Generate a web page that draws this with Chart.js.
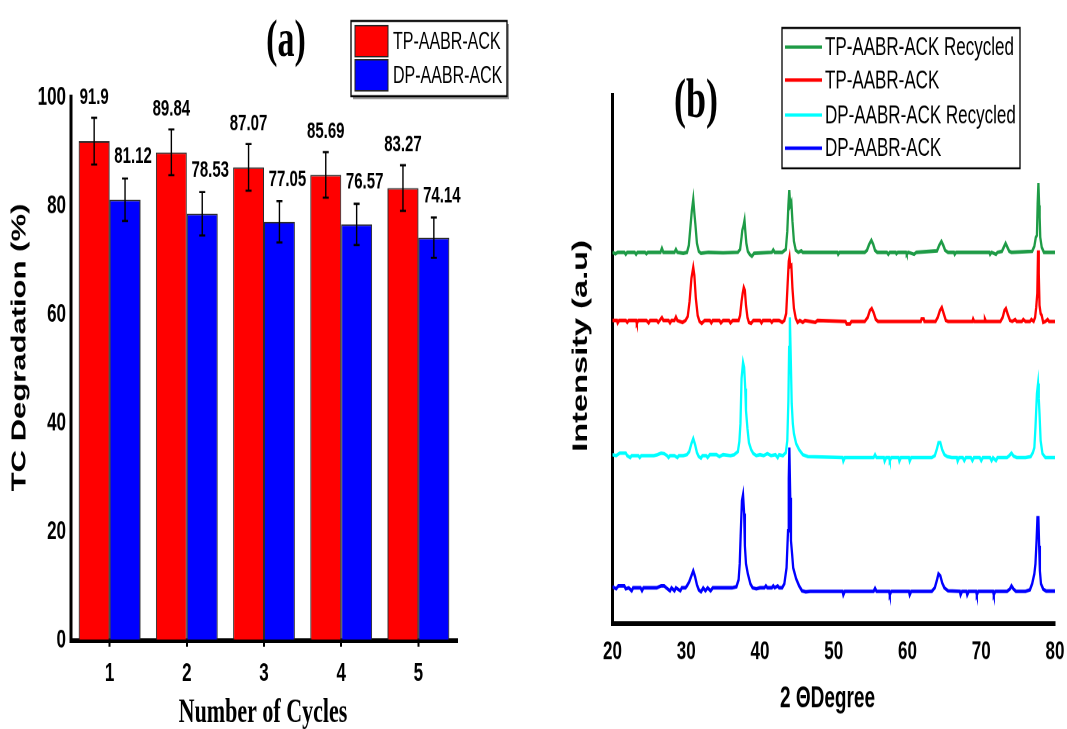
<!DOCTYPE html>
<html>
<head>
<meta charset="utf-8">
<script src="https://cdn.jsdelivr.net/npm/chart.js@4.4.0/dist/chart.umd.min.js"></script>
<style>
  html, body { margin: 0; padding: 0; background: #fff; overflow: hidden; }
  #wrap { position: relative; width: 1067px; height: 729px; }
  /* the source figure is stretched vertically, so each panel is drawn at 470px and scaled to 729px */
  .panel { position: absolute; top: 0; transform-origin: 0 0; transform: scaleY(1.5511); }
  #panelA { left: 0; }
  #panelB { left: 560px; }
</style>
</head>
<body>
<div id="wrap">
  <canvas id="panelA" class="panel" width="560" height="470"></canvas>
  <canvas id="panelB" class="panel" width="507" height="470"></canvas>
</div>
<script>
// ---- data, panel (a) ----
var cycles = ['1', '2', '3', '4', '5'];
var tpDegradation = [91.9, 89.84, 87.07, 85.69, 83.27];
var dpDegradation = [81.12, 78.53, 77.05, 76.57, 74.14];
var tpError = [4.3, 4.2, 4.3, 4.2, 4.2];
var dpError = [3.9, 4.0, 3.8, 3.8, 3.7];

// ---- data, panel (b): [2theta, intensity a.u.] ----
var tpRecycled = [
  [20.0,371],[20.4,369.5],[20.7,371],[21.6,371],[21.8,369],[22.0,371],[23.0,371],[23.2,369],[23.4,371],
  [24.4,371],[24.6,369.5],[24.8,371],[26.5,371],[26.7,375],[26.9,371],[28.4,371],[28.6,374],[28.8,371],
  [29.6,370],[30.1,371],[30.35,378],[30.55,395],[30.75,412],[30.95,424],[31.1,410],[31.25,398],[31.45,380],
  [31.7,372],[32.0,370],[33.0,371],[35.0,370.5],[37.0,371],[37.3,374],[37.5,386],[37.6,393],[37.75,397],
  [37.9,403],[38.0,393],[38.15,380],[38.35,372],[38.6,369],[38.9,367],[39.2,370],[41.6,371],[41.8,373.5],
  [42.0,371],[43.0,371],[43.5,374],[43.7,392],[43.85,418],[43.97,433],[44.1,418],[44.25,421],[44.4,402],
  [44.6,382],[44.85,373],[45.2,371],[45.6,372.5],[45.8,371],[50.5,371],[50.6,369],[50.8,371],[54.2,371],
  [54.5,373],[54.8,379],[55.1,383],[55.35,379],[55.6,373],[55.9,371],[57.2,371],[57.4,369],[57.6,371],
  [58.4,371],[58.5,369.5],[58.7,371],[59.8,371],[59.9,369],[60.1,371],[60.9,369],[61.2,371],[64.0,372.5],
  [64.3,378],[64.6,382],[64.85,378],[65.1,373],[65.5,371],[66.3,371],[66.4,369],[66.6,371],[71.1,371],
  [71.2,369],[71.4,371],[72.0,369],[72.2,371],[72.8,372],[73.05,376],[73.3,380],[73.55,376],[73.8,372],
  [74.1,371],[76.9,372],[77.2,377],[77.4,386],[77.55,388],[77.65,420],[77.75,440],[77.85,418],[77.92,406],
  [78.0,386],[78.2,376],[78.5,371],[80.0,371]
];
var tpFresh = [
  [20.0,303],[20.6,303],[20.7,300.5],[20.9,303],[21.8,303],[22.0,301],[22.2,303],[23.2,303],[23.3,300],
  [23.5,303],[24.6,303],[24.9,300.5],[25.1,303],[26.0,303],[26.2,301],[26.4,303],[26.7,306],[26.9,303],
  [27.6,303],[27.8,300.5],[28.0,303],[28.4,303],[28.6,306.5],[28.8,303],[29.5,301],[29.9,303],[30.2,307],
  [30.45,322],[30.7,345],[30.95,356],[31.1,348],[31.3,325],[31.55,308],[31.8,302],[32.1,300],[32.5,303],
  [33.2,303],[33.4,300.5],[33.6,303],[34.5,303],[34.7,300.5],[35.0,303],[35.8,303],[36.0,300.5],[36.3,303],
  [37.1,303],[37.3,308],[37.5,322],[37.65,330],[37.8,336],[37.95,333],[38.1,318],[38.3,306],[38.5,301],
  [38.8,300],[39.1,303],[40.0,303],[40.2,300.5],[40.4,303],[41.4,303],[41.6,301],[41.8,303],[42.6,303],
  [43.0,301],[43.3,303],[43.55,310],[43.75,340],[43.9,362],[44.0,366],[44.1,357],[44.25,358],[44.4,335],
  [44.6,315],[44.85,305],[45.1,301],[45.4,303],[45.8,301],[46.1,303],[47.5,301],[47.8,303],[51.6,302],
  [51.75,299.5],[52.2,299.5],[52.4,302],[54.2,302],[54.6,306],[54.9,313],[55.15,315],[55.4,311],[55.7,304],
  [56.0,302],[61.8,302],[61.9,304.5],[62.2,304.5],[62.3,302],[63.8,302],[64.1,306],[64.4,313],[64.65,316],
  [64.9,310],[65.2,303],[65.5,302],[68.8,302],[68.9,304.5],[69.05,302],[70.4,302],[70.5,304.5],[70.65,302],
  [72.6,302],[72.9,306],[73.15,313],[73.35,315],[73.6,309],[73.9,303],[74.2,302],[74.6,304],[74.8,302],
  [75.5,302],[75.7,304],[76.0,302],[76.6,302],[76.8,304],[77.1,302],[77.3,306],[77.45,316],[77.6,330],
  [77.7,373],[77.8,350],[77.9,318],[78.05,310],[78.2,308],[78.4,301],[78.7,302],[79.0,304],[79.2,302],[80.0,302]
];
var dpRecycled = [
  [20.0,169],[20.5,168],[21.0,170.5],[21.8,170.5],[22.0,168],[22.4,166],[22.6,168],[23.5,168],[23.7,166],
  [23.9,168],[25.6,168],[26.1,169],[26.6,170.5],[27.0,170],[27.4,168],[27.6,166],[27.8,168],[28.4,168],
  [28.8,166],[29.0,168],[29.6,168],[30.1,169],[30.4,172],[30.7,180],[30.95,185],[31.2,179],[31.45,171],
  [31.7,167],[32.0,165.5],[32.2,168],[32.7,168],[32.9,166],[33.2,169],[34.1,169],[34.5,167],[35.0,169],
  [36.0,168],[36.5,169],[37.0,172],[37.2,182],[37.35,200],[37.5,245],[37.7,261],[37.85,256],[38.0,235],
  [38.1,213],[38.3,195],[38.5,181],[38.8,174],[39.1,170],[39.5,168],[40.0,169],[40.5,168],[41.0,170],
  [41.5,168],[42.1,169],[42.4,166],[42.6,169],[43.1,168],[43.5,171],[43.7,183],[43.85,223],[43.95,276],
  [44.05,306],[44.15,273],[44.3,220],[44.45,200],[44.6,190],[44.9,180],[45.3,174],[45.8,169],[46.5,167],
  [51.2,166],[51.3,162.5],[51.5,166],[55.4,166],[55.6,169],[55.8,166],[56.8,166],[56.9,162.5],[57.1,166],
  [57.5,166],[57.6,163],[57.8,166],[58.8,166],[58.9,162.5],[59.1,166],[60.2,166],[60.3,162.5],[60.5,166],
  [63.3,166],[63.7,168],[64.0,175],[64.2,181],[64.45,181],[64.7,174],[65.0,169],[65.4,167],[66.0,166],
  [66.7,166],[66.8,162.5],[67.0,166],[67.5,166],[67.7,163],[67.9,166],[68.6,166],[68.8,163],[69.0,166],
  [69.8,166],[70.0,163],[70.2,166],[71.2,166],[71.4,163],[71.6,166],[72.0,163],[72.2,166],[73.5,166],
  [73.8,168],[74.1,170.5],[74.4,167.5],[74.8,166],[76.0,166],[76.7,167],[77.0,171],[77.2,176],[77.35,196],
  [77.55,230],[77.7,240],[77.8,225],[77.9,210],[78.05,183],[78.3,170],[78.7,166],[80.0,166]
];
var dpFresh = [
  [20.0,37],[20.5,35],[20.8,38],[21.6,38],[21.8,35],[22.2,36],[22.6,33],[22.8,36],[23.8,36],[24.0,33],
  [24.2,36],[26.0,36],[26.6,38],[27.0,38],[27.3,36],[27.8,33],[28.0,36],[28.4,33],[28.6,36],[29.2,33],
  [29.4,36],[29.9,36],[30.1,38],[30.4,42],[30.7,48],[30.95,53],[31.2,47],[31.45,39],[31.7,34],[32.0,32],
  [32.3,36],[32.6,33],[32.9,36],[33.3,33],[33.6,36],[36.2,36],[36.8,37],[37.1,44],[37.25,60],[37.4,93],
  [37.55,123],[37.7,129],[37.85,110],[37.95,78],[38.1,60],[38.35,50],[38.7,40],[39.0,36],[39.5,35],
  [40.0,36],[40.6,36],[40.8,38],[41.0,36],[41.6,36],[41.8,38],[42.0,36],[42.4,38],[42.6,36],[43.0,36],
  [43.3,40],[43.6,56],[43.8,93],[43.9,145],[43.98,176],[44.1,126],[44.2,83],[44.35,70],[44.5,56],
  [44.9,45],[45.3,38],[45.7,33],[46.2,32],[46.8,32.5],[51.2,32.5],[51.3,29],[51.5,32.5],[55.4,32.5],
  [55.6,35.5],[55.8,32.5],[57.5,32.5],[57.6,29],[57.8,32.5],[60.2,32.5],[60.3,29],[60.5,32.5],[63.3,32.5],
  [63.7,36],[64.0,44],[64.2,50],[64.45,48],[64.7,41],[65.0,36],[65.5,33],[67.1,32.5],[67.2,29],[67.4,32.5],
  [68.0,32.5],[68.1,29],[68.3,32.5],[69.3,32.5],[69.4,29],[69.6,32.5],[71.6,32.5],[71.7,29],[71.9,32.5],
  [73.5,32.5],[73.9,35],[74.1,38],[74.35,35],[74.7,32.5],[76.0,32.5],[76.6,34],[76.9,40],[77.2,50],
  [77.35,60],[77.5,83],[77.62,106],[77.75,106],[77.85,78],[77.95,53],[78.1,40],[78.4,34.7],[78.8,32.7],[80.0,32.7]
];
var thetaTicks = [20, 30, 40, 50, 60, 70, 80];

var SANS = "'Liberation Sans', Arial, sans-serif";
var SERIF = "'Liberation Serif', 'Times New Roman', serif";
Chart.defaults.font.family = SANS;
Chart.defaults.color = '#000';

function drawText(ctx, text, x, y, font, rot, align, base) {
  ctx.save();
  ctx.translate(x, y);
  if (rot) ctx.rotate(rot);
  ctx.font = font;
  ctx.fillStyle = '#000';
  ctx.textAlign = align || 'center';
  ctx.textBaseline = base || 'middle';
  ctx.fillText(text, 0, 0);
  ctx.restore();
}

// error bars + value labels on top of the bars
var barExtras = {
  id: 'barExtras',
  afterDatasetsDraw: function(chart) {
    var ctx = chart.ctx, y = chart.scales.y;
    var errs = [tpError, dpError];
    var shift = [{dx: 0, dy: 13}, {dx: 8, dy: 14}];
    chart.data.datasets.forEach(function(ds, i) {
      var meta = chart.getDatasetMeta(i);
      meta.data.forEach(function(bar, j) {
        var v = ds.data[j], e = errs[i][j];
        var top = y.getPixelForValue(v + e), bot = y.getPixelForValue(v - e);
        ctx.save();
        ctx.strokeStyle = '#000';
        ctx.lineWidth = 1.4;
        ctx.beginPath();
        ctx.moveTo(bar.x, top); ctx.lineTo(bar.x, bot);
        ctx.moveTo(bar.x - 3, top); ctx.lineTo(bar.x + 3, top);
        ctx.moveTo(bar.x - 3, bot); ctx.lineTo(bar.x + 3, bot);
        ctx.stroke();
        ctx.restore();
        drawText(ctx, String(v), bar.x + shift[i].dx, top - shift[i].dy, 'bold 15px ' + SANS);
      });
    });
  }
};

var frameA = {
  id: 'frameA',
  afterDraw: function(chart) {
    var ctx = chart.ctx;
    drawText(ctx, '(a)', 286, 27, 'bold 34px ' + SERIF);
    drawText(ctx, 'TC Degradation (%)', 20, 224, 'bold 20px ' + SANS, -Math.PI / 2);
    drawText(ctx, 'Number of Cycles', 263, 465.5, 'bold 22px ' + SERIF, 0, 'center', 'alphabetic');
    // legend box
    ctx.save();
    ctx.fillStyle = '#9a9a9a';
    ctx.fillRect(353, 15.5, 156, 48.5);
    ctx.fillStyle = '#fff';
    ctx.fillRect(351, 13.5, 156, 48.5);
    ctx.strokeStyle = '#000';
    ctx.lineWidth = 1.3;
    ctx.strokeRect(351, 13.5, 156, 48.5);
    chart.data.datasets.forEach(function(ds, i) {
      var top = 16.5 + i * 22;
      ctx.fillStyle = ds.backgroundColor;
      ctx.fillRect(355, top, 33, 20);
      ctx.strokeStyle = '#222';
      ctx.lineWidth = 1;
      ctx.strokeRect(355, top, 33, 20);
      drawText(ctx, ds.label, 393, top + 10.5, '16px ' + SANS, 0, 'left');
    });
    ctx.restore();
  }
};

var frameB = {
  id: 'frameB',
  afterDraw: function(chart) {
    var ctx = chart.ctx;
    drawText(ctx, '(b)', 136, 66, 'bold 36px ' + SERIF);
    drawText(ctx, 'Intensity (a.u)', 21, 223, 'bold 21px ' + SANS, -Math.PI / 2);
    drawText(ctx, '2 \u0398Degree', 267.5, 451, 'bold 19px ' + SANS);
    ctx.save();
    ctx.fillStyle = '#fff';
    ctx.fillRect(222, 18, 238, 90.5);
    ctx.strokeStyle = '#000';
    ctx.lineWidth = 1.3;
    ctx.strokeRect(222, 18, 238, 90.5);
    var rows = [30.3, 51.6, 74.2, 95.5];
    chart.data.datasets.forEach(function(ds, i) {
      ctx.strokeStyle = ds.borderColor;
      ctx.lineWidth = 2.2;
      ctx.beginPath();
      ctx.moveTo(225, rows[i]); ctx.lineTo(262, rows[i]);
      ctx.stroke();
      drawText(ctx, ds.label, 265, rows[i] + 0.5, '17px ' + SANS, 0, 'left');
    });
    ctx.restore();
  }
};

new Chart(document.getElementById('panelA'), {
  type: 'bar',
  data: {
    labels: cycles,
    datasets: [{
      label: 'TP-AABR-ACK',
      data: tpDegradation,
      backgroundColor: '#ff0000',
      borderColor: '#2a2a2a',
      borderWidth: 1
    }, {
      label: 'DP-AABR-ACK',
      data: dpDegradation,
      backgroundColor: '#0000ff',
      borderColor: '#2a2a2a',
      borderWidth: 1
    }]
  },
  options: {
    responsive: false,
    animation: false,
    devicePixelRatio: 2,
    barPercentage: 1.0,
    categoryPercentage: 0.8,
    layout: { padding: { left: 0, right: 103, top: 62.6, bottom: 0 } },
    plugins: { legend: { display: false }, tooltip: { enabled: false } },
    scales: {
      x: {
        grid: { drawOnChartArea: false, drawTicks: true, tickLength: 4, offset: false, color: '#000', lineWidth: 2 },
        border: { display: true, color: '#000', width: 3 },
        ticks: { font: { size: 17, weight: 'bold' }, padding: 7, color: '#000' },
        afterFit: function(s) { s.height = 57.1; }
      },
      y: {
        min: 0, max: 100,
        grid: { drawOnChartArea: false, drawTicks: false },
        border: { display: true, color: '#000', width: 3 },
        ticks: { stepSize: 20, font: { size: 17, weight: 'bold' }, padding: 5, color: '#000' },
        afterFit: function(s) { s.width = 71; }
      }
    }
  },
  plugins: [barExtras, frameA]
});

function trace(label, color, pts) {
  return {
    label: label,
    data: pts,
    borderColor: color,
    backgroundColor: color,
    borderWidth: 2.3,
    pointRadius: 0,
    tension: 0,
    fill: false
  };
}

new Chart(document.getElementById('panelB'), {
  type: 'line',
  data: {
    datasets: [
      trace('TP-AABR-ACK Recycled', '#1e9b46', tpRecycled),
      trace('TP-AABR-ACK', '#ff0000', tpFresh),
      trace('DP-AABR-ACK Recycled', '#00ffff', dpRecycled),
      trace('DP-AABR-ACK', '#0000ff', dpFresh)
    ]
  },
  options: {
    responsive: false,
    animation: false,
    devicePixelRatio: 2,
    parsing: { xAxisKey: 0, yAxisKey: 1 },
    layout: { padding: { left: 0, right: 12, top: 61.3, bottom: 0 } },
    plugins: { legend: { display: false }, tooltip: { enabled: false } },
    scales: {
      x: {
        type: 'linear',
        min: 20, max: 80,
        grid: { drawOnChartArea: false, drawTicks: false },
        border: { display: true, color: '#000', width: 3 },
        afterBuildTicks: function(s) { s.ticks = thetaTicks.map(function(v) { return { value: v }; }); },
        ticks: { font: { size: 17, weight: 'bold' }, padding: 8, color: '#000' },
        afterFit: function(s) { s.height = 67.8; s.paddingLeft = 0; s.paddingRight = 0; }
      },
      y: {
        min: 0, max: 528,
        grid: { drawOnChartArea: false, drawTicks: false },
        border: { display: true, color: '#000', width: 3 },
        ticks: { display: false },
        afterFit: function(s) { s.width = 52.5; s.paddingTop = 0; s.paddingBottom = 0; }
      }
    }
  },
  plugins: [frameB]
});
</script>
</body>
</html>
